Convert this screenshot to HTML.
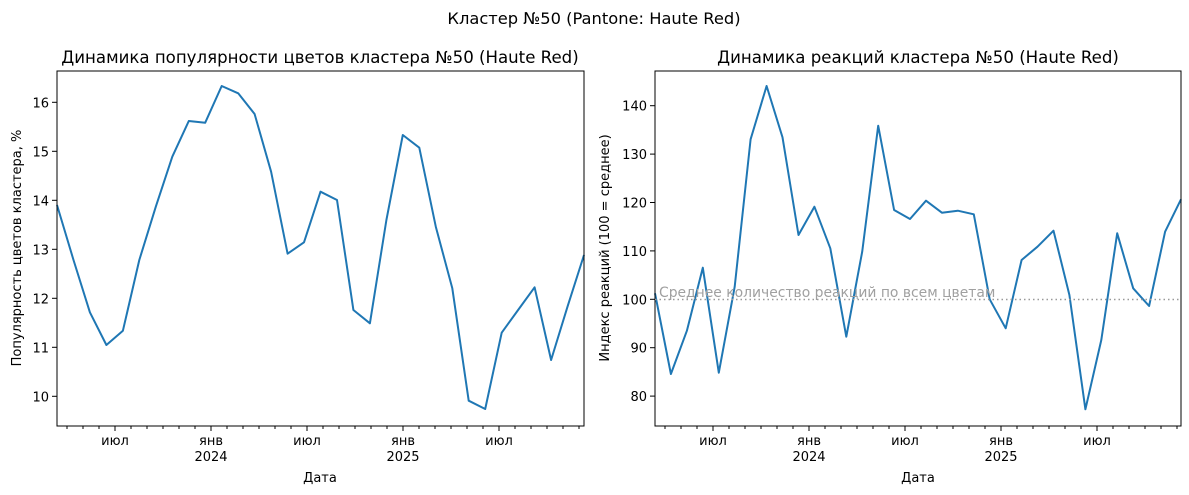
<!DOCTYPE html>
<html><head><meta charset="utf-8"><style>
body{margin:0;background:#fff}
svg{display:block;font-family:"DejaVu Sans","Liberation Sans",sans-serif}
</style></head><body>
<svg id="s" width="1189" height="495" viewBox="0 0 1189 495" xmlns="http://www.w3.org/2000/svg">
<text x="594" y="24" font-size="16.3" text-anchor="middle">Кластер №50 (Pantone: Haute Red)</text>
<text x="320" y="63" font-size="16.6" text-anchor="middle">Динамика популярности цветов кластера №50 (Haute Red)</text>
<text x="918" y="63" font-size="16.6" text-anchor="middle">Динамика реакций кластера №50 (Haute Red)</text>
<g id="g"></g>
<text x="320" y="482" font-size="13" text-anchor="middle">Дата</text>
<text x="918" y="482" font-size="13" text-anchor="middle">Дата</text>
<text transform="translate(21,248) rotate(-90)" font-size="13" text-anchor="middle">Популярность цветов кластера, %</text>
<text transform="translate(609,248) rotate(-90)" font-size="13" text-anchor="middle">Индекс реакций (100 = среднее)</text>
<line x1="655" x2="1181" y1="299.5" y2="299.5" stroke="#999" stroke-width="1.5" stroke-dasharray="1.5,3"/>
<text x="659" y="297" font-size="13.9" fill="#a0a0a0">Среднее количество реакций по всем цветам</text>
</svg>
<script>
var ns="http://www.w3.org/2000/svg",g=document.getElementById("g");
function el(t,a,txt){var e=document.createElementNS(ns,t);for(var k in a)e.setAttribute(k,a[k]);if(txt!=null)e.textContent=txt;g.appendChild(e);return e;}
var L=[435,600,757,855,812,600,440,290,183,188,78,100,162,335,581,547,395,420,750,790,480,225,263,500,685,1022,1047,818,750,682,900,740,585];
var R=[700,942,812,623,938,680,238,78,232,525,440,565,830,575,197,450,477,422,458,452,463,718,805,600,560,512,705,1048,840,520,685,738,515,418];
function axes(x0,x1,ticks,data,ymap){
  var top=71,bot=426;
  var pts=data.map(function(v,i){return (x0+(x1-x0)*i/(data.length-1)).toFixed(1)+","+ymap(v).toFixed(1)}).join(" ");
  el("polyline",{points:pts,fill:"none",stroke:"#1f77b4","stroke-width":2,"stroke-linejoin":"round"});
  el("rect",{x:x0,y:top,width:x1-x0,height:bot-top,fill:"none",stroke:"#000","stroke-width":1});
  ticks.forEach(function(t){el("line",{x1:x0,x2:x0-5,y1:t[0],y2:t[0],stroke:"#000"});el("text",{x:x0-8,y:t[0]+5,"font-size":13,"text-anchor":"end"},t[1]);});
  var jan=x0+154;
  for(var n=-9;n<=23;n++){var x=jan+16*n;if(x<x0||x>x1+1)continue;var maj=(n%6==0);
    el("line",{x1:x,x2:x,y1:bot,y2:bot+(maj?5:3),stroke:"#000"});
    if(maj){var lab=(n%12==0)?"янв":"июл";el("text",{x:x,y:bot+19,"font-size":13,"text-anchor":"middle"},lab);
      if(n%12==0)el("text",{x:x,y:bot+35,"font-size":13,"text-anchor":"middle"},n==0?"2024":"2025");}
  }
}
axes(57,584,[[102.3,"16"],[151.3,"15"],[200.3,"14"],[249.3,"13"],[298.3,"12"],[347.3,"11"],[396.3,"10"]],L,function(y){return 60+y/3;});
axes(655,1181,[[105.7,"140"],[154.1,"130"],[202.5,"120"],[250.9,"110"],[299.3,"100"],[347.7,"90"],[396.1,"80"]],R,function(y){return 60+y/3;});
</script>
</body></html>
